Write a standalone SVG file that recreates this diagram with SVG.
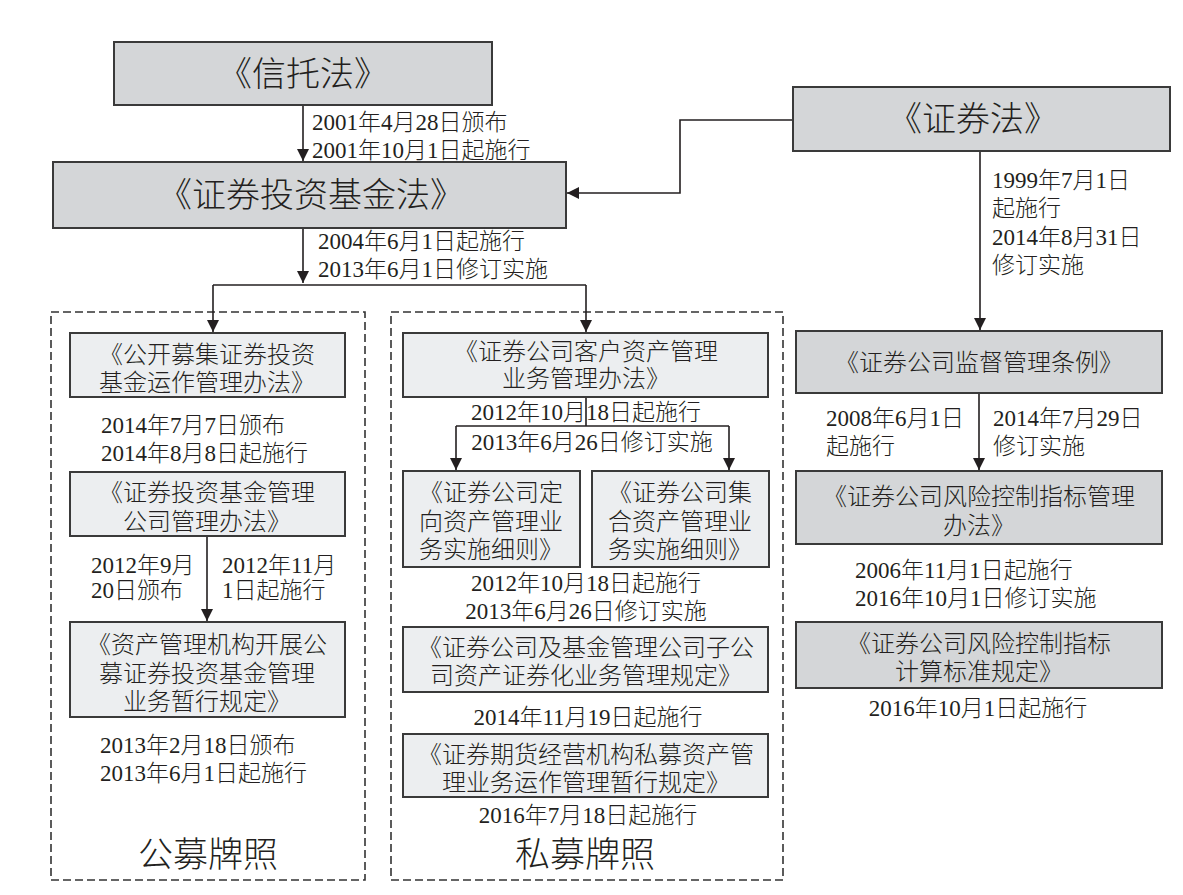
<svg xmlns="http://www.w3.org/2000/svg" width="1183" height="895" viewBox="0 0 1183 895">
<style>
.dk{fill:#d4d6d8;stroke:#3a3a3a;stroke-width:2}
.lt{fill:#eceef0;stroke:#3a3a3a;stroke-width:2}
.dash{fill:none;stroke:#333;stroke-width:1.6;stroke-dasharray:8 4}
text{font-family:"Liberation Serif","Noto Sans CJK SC",serif;fill:#231f20;font-weight:300}
.t{font-size:34px;text-anchor:middle}
.n{font-size:24px;text-anchor:middle}
.d{font-size:23px}
.dc{font-size:23px;text-anchor:middle}
.lab{font-size:35px;text-anchor:middle}
.c{fill:none;stroke:#231f20;stroke-width:1.6}
</style>
<defs>
<marker id="ar" markerUnits="userSpaceOnUse" markerWidth="12" markerHeight="16" refX="12" refY="6" orient="auto">
<path d="M0,0 L12,6 L0,12 Z" fill="#231f20"/>
</marker>
</defs>
<rect width="1183" height="895" fill="#fff"/>

<g id="containers">
<rect class="dash" x="51" y="312" width="314" height="568"/>
<rect class="dash" x="391" y="312" width="392" height="568"/>
</g>

<g id="connectors">
<path class="c" d="M303,105 V161" marker-end="url(#ar)"/>
<path class="c" d="M793,120 H680 V193 H567" marker-end="url(#ar)"/>
<path class="c" d="M303,228 V283" marker-end="url(#ar)"/>
<path class="c" d="M213,285 H586"/>
<path class="c" d="M213,285 V332" marker-end="url(#ar)"/>
<path class="c" d="M586,285 V332" marker-end="url(#ar)"/>
<path class="c" d="M980,151 V330" marker-end="url(#ar)"/>
<path class="c" d="M207,536 V621" marker-end="url(#ar)"/>
<path class="c" d="M586,397 V426"/>
<path class="c" d="M456,426 H729"/>
<path class="c" d="M456,426 V470" marker-end="url(#ar)"/>
<path class="c" d="M729,426 V470" marker-end="url(#ar)"/>
<path class="c" d="M979,393 V470" marker-end="url(#ar)"/>
</g>

<g id="n-xintuofa">
<rect class="dk" x="114" y="42" width="378" height="63"/>
<text class="t" x="303" y="86">《信托法》</text>
</g>
<g id="l-xintuofa">
<text class="d" x="312" y="130">2001年4月28日颁布</text>
<text class="d" x="312" y="158">2001年10月1日起施行</text>
</g>

<g id="n-jijinfa">
<rect class="dk" x="53" y="162" width="513" height="66"/>
<text class="t" x="311" y="207">《证券投资基金法》</text>
</g>
<g id="l-jijinfa">
<text class="d" x="318" y="249">2004年6月1日起施行</text>
<text class="d" x="318" y="277">2013年6月1日修订实施</text>
</g>

<g id="n-zhengquanfa">
<rect class="dk" x="793" y="87" width="377" height="64"/>
<text class="t" x="973" y="131">《证券法》</text>
</g>
<g id="l-zhengquanfa">
<text class="d" x="992" y="188">1999年7月1日</text>
<text class="d" x="992" y="216">起施行</text>
<text class="d" x="992" y="245">2014年8月31日</text>
<text class="d" x="992" y="273">修订实施</text>
</g>

<!-- left column -->
<g id="n-gongkai">
<rect class="lt" x="70" y="333" width="275" height="64"/>
<text class="n" x="207" y="363">《公开募集证券投资</text>
<text class="n" x="207" y="391">基金运作管理办法》</text>
</g>
<g id="l-gongkai">
<text class="d" x="101" y="433">2014年7月7日颁布</text>
<text class="d" x="101" y="461">2014年8月8日起施行</text>
</g>
<g id="n-jijingongsi">
<rect class="lt" x="70" y="472" width="275" height="64"/>
<text class="n" x="207" y="501">《证券投资基金管理</text>
<text class="n" x="207" y="530">公司管理办法》</text>
</g>
<g id="l-jijingongsi">
<text class="d" x="91" y="573">2012年9月</text>
<text class="d" x="91" y="598">20日颁布</text>
<text class="d" x="222" y="573">2012年11月</text>
<text class="d" x="222" y="598">1日起施行</text>
</g>
<g id="n-zichanguanli">
<rect class="lt" x="70" y="622" width="275" height="95"/>
<text class="n" x="207" y="653">《资产管理机构开展公</text>
<text class="n" x="207" y="682">募证券投资基金管理</text>
<text class="n" x="207" y="710">业务暂行规定》</text>
</g>
<g id="l-zichanguanli">
<text class="d" x="100" y="753">2013年2月18日颁布</text>
<text class="d" x="100" y="781">2013年6月1日起施行</text>
</g>
<text class="lab" x="208" y="867">公募牌照</text>

<!-- middle column -->
<g id="n-kehu">
<rect class="lt" x="403" y="333" width="365" height="64"/>
<text class="n" x="586" y="360">《证券公司客户资产管理</text>
<text class="n" x="586" y="387">业务管理办法》</text>
</g>
<g id="l-kehu">
<text class="dc" x="586" y="420">2012年10月18日起施行</text>
<text class="dc" x="592" y="450">2013年6月26日修订实施</text>
</g>
<g id="n-dingxiang">
<rect class="lt" x="403" y="471" width="177" height="96"/>
<text class="n" x="491" y="501">《证券公司定</text>
<text class="n" x="491" y="530">向资产管理业</text>
<text class="n" x="491" y="558">务实施细则》</text>
</g>
<g id="n-jihe">
<rect class="lt" x="592" y="471" width="177" height="96"/>
<text class="n" x="680" y="501">《证券公司集</text>
<text class="n" x="680" y="530">合资产管理业</text>
<text class="n" x="680" y="558">务实施细则》</text>
</g>
<g id="l-xize">
<text class="dc" x="586" y="591">2012年10月18日起施行</text>
<text class="dc" x="586" y="619">2013年6月26日修订实施</text>
</g>
<g id="n-zichanzhengquanhua">
<rect class="lt" x="403" y="627" width="365" height="65"/>
<text class="n" x="586" y="656">《证券公司及基金管理公司子公</text>
<text class="n" x="586" y="684">司资产证券化业务管理规定》</text>
</g>
<text class="dc" x="588" y="725">2014年11月19日起施行</text>
<g id="n-simu">
<rect class="lt" x="403" y="734" width="365" height="63"/>
<text class="n" x="586" y="763">《证券期货经营机构私募资产管</text>
<text class="n" x="586" y="791">理业务运作管理暂行规定》</text>
</g>
<text class="dc" x="588" y="823">2016年7月18日起施行</text>
<text class="lab" x="585" y="867">私募牌照</text>

<!-- right column -->
<g id="n-jiandu">
<rect class="dk" x="796" y="331" width="366" height="62"/>
<text class="n" x="979" y="371">《证券公司监督管理条例》</text>
</g>
<g id="l-jiandu">
<text class="d" x="826" y="426">2008年6月1日</text>
<text class="d" x="826" y="454">起施行</text>
<text class="d" x="993" y="426">2014年7月29日</text>
<text class="d" x="993" y="454">修订实施</text>
</g>
<g id="n-fengkong">
<rect class="dk" x="796" y="471" width="366" height="73"/>
<text class="n" x="979" y="505">《证券公司风险控制指标管理</text>
<text class="n" x="979" y="534">办法》</text>
</g>
<g id="l-fengkong">
<text class="d" x="855" y="578">2006年11月1日起施行</text>
<text class="d" x="855" y="606">2016年10月1日修订实施</text>
</g>
<g id="n-jisuan">
<rect class="dk" x="796" y="622" width="366" height="66"/>
<text class="n" x="979" y="652">《证券公司风险控制指标</text>
<text class="n" x="979" y="680">计算标准规定》</text>
</g>
<text class="dc" x="978" y="716">2016年10月1日起施行</text>
</svg>
